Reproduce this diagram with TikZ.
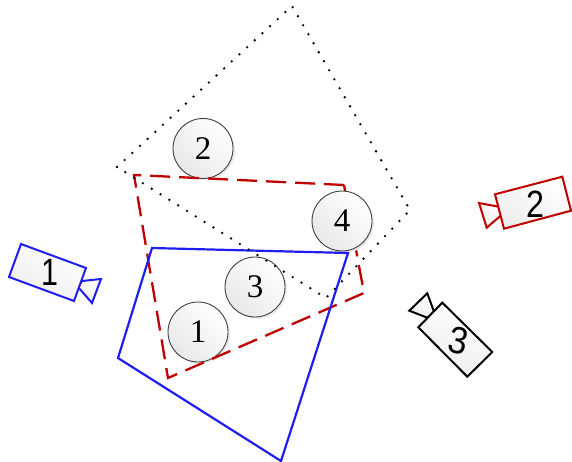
\documentclass[tikz,border=0pt]{standalone}
\usepackage{fontspec}
\setmainfont{Liberation Serif}
\newfontfamily\camfont{Liberation Sans}
\definecolor{camblue}{RGB}{30,30,240}
\definecolor{camred}{RGB}{192,0,0}
\tikzset{
  x=1pt,y=-1pt,
  spot/.style={circle,draw=black!75,line width=0.9pt,minimum size=60pt,inner sep=0pt,outer sep=0pt,
    left color=white,right color=black!9,shading angle=-45,font=\fontsize{33}{33}\selectfont,text=black},
  halo/.style={circle,fill=black!8,minimum size=60pt,inner sep=0pt,outer sep=0pt},
  fovblue/.style={draw=camblue,line width=2.2pt,line join=miter},
  fovred/.style={draw=camred,line width=2.3pt,dash pattern=on 20pt off 9pt},
  fovdot/.style={draw=black,line width=2.6pt,line cap=round,dash pattern=on 0pt off 10.4pt},
  cambody/.style={line width=2pt,line join=miter,left color=white,right color=black!7,shading angle=-30},
  camtext/.style={font=\camfont\fontsize{38}{38}\selectfont,inner sep=0pt,text=black},
}
\begin{document}
\begin{tikzpicture}
\useasboundingbox (0,0) rectangle (572,462);
% circles 1-3 lie under the outlines
\node[halo] at (200,334) {};
\node[halo] at (205,150.5) {};
\node[halo] at (257,289) {};
\node[spot] (s1) at (198,332) {1};
\node[spot] (s2) at (203,148.5) {2};
\node[spot] (s3) at (255,287) {3};
% red field of view
\coordinate (r1) at (134,175);
\coordinate (r2) at (344,185);
\coordinate (r3) at (364,293);
\coordinate (r4) at (168,378);
\draw[fovred] (r2) -- (r1) -- (r4) -- (r3) -- (r2);
% circle 4 hides part of the red outline
\node[halo] at (344,223) {};
\node[spot] (s4) at (342,221) {4};
% blue field of view
\coordinate (b1) at (152,248);
\coordinate (b2) at (348,253);
\coordinate (b3) at (281,461);
\coordinate (b4) at (118,358);
\draw[fovblue] (b1) -- (b2) -- (b3) -- (b4) -- cycle;
% dotted field of view
\coordinate (d1) at (117,167);
\coordinate (d2) at (292,6);
\coordinate (d3) at (410,210);
\coordinate (d4) at (326,298);
\draw[fovdot] (d1) -- (d2) -- (d3) -- (d4) -- cycle;
% camera 1
\path[cambody,draw=camblue] (78,287) -- (82,281) -- (101,279) -- (92,303) -- cycle;
\path[cambody,draw=camblue] (21,244) -- (86,268) -- (74,301) -- (9,277) -- cycle;
\node[camtext] (c1) at (50,272) {\scalebox{0.8}[1]{1}};
% camera 2
\path[cambody,draw=camred] (500,207) -- (479,203) -- (486.7,227.7) -- (500.7,215.7) -- cycle;
\path[cambody,draw=camred] (495,194.3) -- (562.3,176.7) -- (571,210.7) -- (504,228.7) -- cycle;
\node[camtext] (c2) at (535,204) {\scalebox{0.85}[1]{2}};
% camera 3
\path[cambody,draw=black] (427.3,293.3) -- (409.3,310.7) -- (428,318) -- (434,311.7) -- cycle;
\path[cambody,draw=black] (442.3,302.7) -- (492.3,352) -- (467.3,376.7) -- (418.3,327.3) -- cycle;
\node[camtext,rotate=-12] (c3) at (459,341) {\scalebox{0.9}[1]{3}};
\end{tikzpicture}
\end{document}
